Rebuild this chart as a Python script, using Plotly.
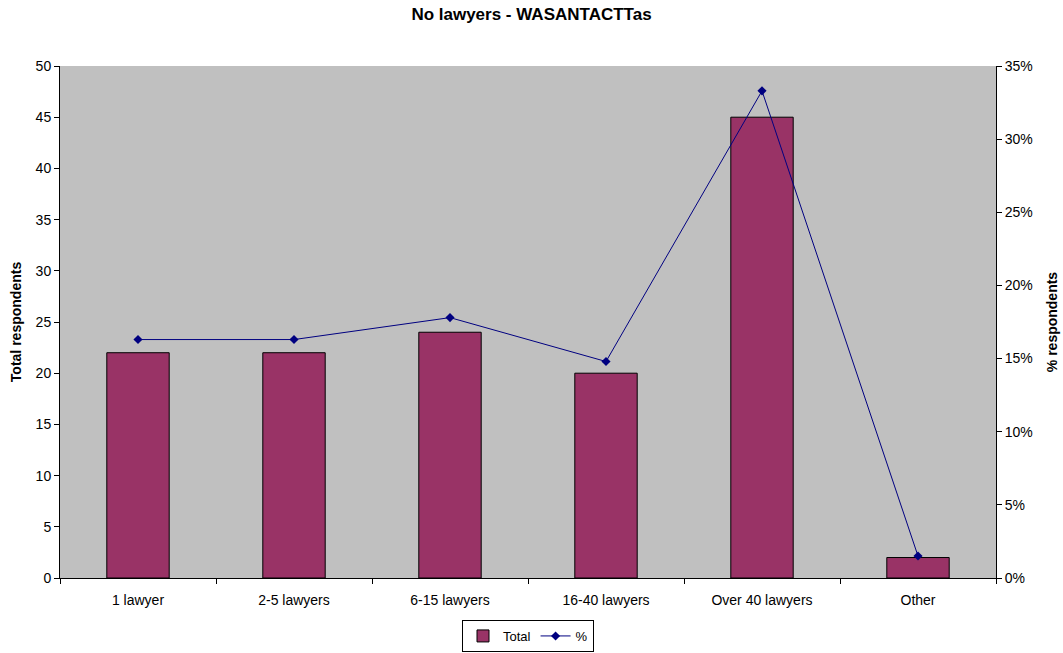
import plotly.graph_objects as go

categories = ["1 lawyer", "2-5 lawyers", "6-15 lawyers", "16-40 lawyers", "Over 40 lawyers", "Other"]
totals = [22, 22, 24, 20, 45, 2]
percents = [0.163, 0.163, 0.178, 0.148, 0.333, 0.015]

font = "Liberation Sans, Arial, sans-serif"

fig = go.Figure()
fig.add_trace(go.Bar(
    x=categories, y=totals, name="Total",
    marker=dict(color="#993366", line=dict(color="black", width=1)),
    width=0.4, yaxis="y",
))
fig.add_trace(go.Scatter(
    x=categories, y=percents, name="%", yaxis="y2",
    mode="lines+markers",
    line=dict(color="#000080", width=1),
    marker=dict(symbol="diamond", size=7, color="#000080"),
))

fig.update_layout(
    width=1063, height=653,
    margin=dict(l=60, r=67, t=66, b=75, autoexpand=False),
    paper_bgcolor="white", plot_bgcolor="#C0C0C0",
    font=dict(family=font, size=14, color="black"),
    title=dict(text="<b>No lawyers - WASANTACTTas</b>", x=0.5, xanchor="center",
               y=1 - 14 / 653, yanchor="middle", font=dict(size=17)),
    showlegend=True,
    legend=dict(orientation="h", x=0.5, xanchor="center", y=-0.082, yanchor="top",
                bordercolor="black", borderwidth=1, font=dict(size=13),
                itemwidth=30, tracegroupgap=0),
    bargap=0.6,
    xaxis=dict(showline=True, linecolor="black", linewidth=1, ticks="outside",
               tickson="boundaries", ticklen=5, tickcolor="black", showgrid=False,
               mirror=False, automargin=False, ticklabelstandoff=9),
    yaxis=dict(title=dict(text="<b>Total respondents</b>", font=dict(size=14), standoff=10),
               range=[0, 50], dtick=5, showline=True, linecolor="black", linewidth=1,
               ticks="outside", ticklen=5, tickcolor="black", showgrid=False, zeroline=False,
               automargin=False),
    yaxis2=dict(title=dict(text="<b>% respondents</b>", font=dict(size=14)),
                range=[0, 0.35], dtick=0.05, tickformat=".0%", overlaying="y", side="right",
                showline=True, linecolor="black", linewidth=1, ticks="outside", ticklen=5,
                tickcolor="black", showgrid=False, zeroline=False, automargin=False),
)

fig.write_html("out.html", config={"displayModeBar": False},
               post_script="document.body.style.margin='0';document.body.style.overflow='hidden';")
